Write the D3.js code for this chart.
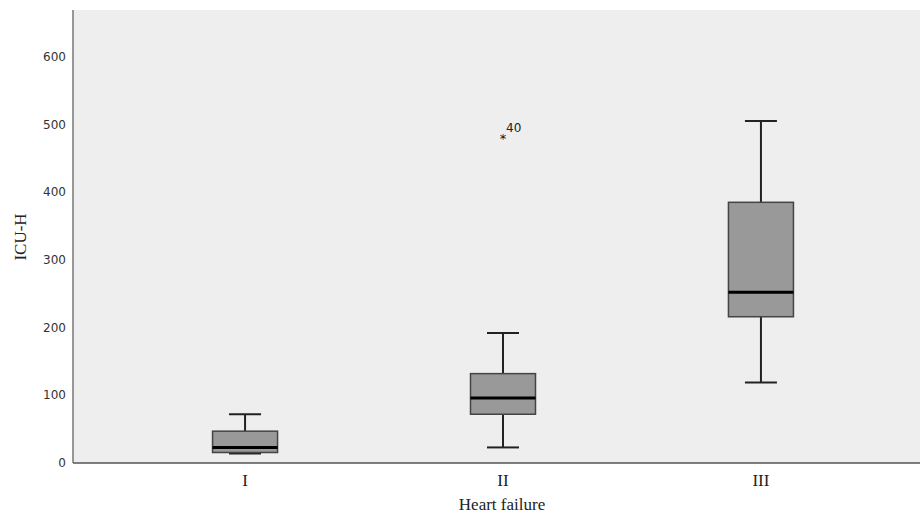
<!DOCTYPE html>
<html>
<head>
<meta charset="utf-8">
<script src="https://d3js.org/d3.v7.min.js"></script>
<style>
  body { margin: 0; background: #fff; }
  svg { display: block; }
</style>
</head>
<body>
<script>
// categories and box stats
const groups = ['I', 'II', 'III'];
const whiskLow = [14, 23, 119];
const q1 = [15.5, 72, 216];
const medians = [23, 96, 252];
const q3 = [47, 132, 385];
const whiskHigh = [72, 192, 505];

// extreme values (SPSS star) with case labels
const outGroup = ['II'];
const outValue = [481];
const outLabel = ['40'];

const yTicks = [0, 100, 200, 300, 400, 500, 600];

const width = 920, height = 525;
const plotLeft = 73, plotTop = 10, plotBottom = 463;

const svg = d3.select('body').append('svg')
  .attr('width', width)
  .attr('height', height);

const x = d3.scalePoint()
  .domain(groups)
  .range([plotLeft, 933])
  .padding(0.667);

const y = d3.scaleLinear()
  .domain([0, 669])
  .range([plotBottom, plotTop]);

// plot background
svg.append('rect')
  .attr('x', plotLeft)
  .attr('y', plotTop)
  .attr('width', width - plotLeft)
  .attr('height', plotBottom - plotTop)
  .style('fill', '#eeeeee');

// y axis labels
svg.selectAll('.ytick')
  .data(yTicks)
  .enter()
  .append('text')
  .attr('class', 'ytick')
  .attr('x', 66)
  .attr('y', d => y(d))
  .attr('dy', '0.35em')
  .attr('text-anchor', 'end')
  .style('font-family', '"DejaVu Sans", sans-serif')
  .style('font-size', '12px')
  .style('fill', '#333')
  .text(d => d);

// axes lines
svg.append('line')
  .attr('x1', plotLeft).attr('x2', plotLeft)
  .attr('y1', plotTop).attr('y2', plotBottom)
  .style('stroke', '#777')
  .style('stroke-width', 1.5);

svg.append('line')
  .attr('x1', plotLeft).attr('x2', width)
  .attr('y1', plotBottom).attr('y2', plotBottom)
  .style('stroke', '#555')
  .style('stroke-width', 1.5);

const boxW = 65, capW = 32;

const boxes = groups.map((g, i) => ({
  g: g, lo: whiskLow[i], q1: q1[i], med: medians[i], q3: q3[i], hi: whiskHigh[i]
}));

const gBox = svg.selectAll('.box')
  .data(boxes)
  .enter()
  .append('g')
  .attr('class', 'box');

// whisker stems
gBox.append('line')
  .attr('x1', d => x(d.g)).attr('x2', d => x(d.g))
  .attr('y1', d => y(d.hi)).attr('y2', d => y(d.q3))
  .style('stroke', '#222').style('stroke-width', 2);
gBox.append('line')
  .attr('x1', d => x(d.g)).attr('x2', d => x(d.g))
  .attr('y1', d => y(d.q1)).attr('y2', d => y(d.lo))
  .style('stroke', '#222').style('stroke-width', 2);

// caps
gBox.append('line')
  .attr('x1', d => x(d.g) - capW / 2).attr('x2', d => x(d.g) + capW / 2)
  .attr('y1', d => y(d.hi)).attr('y2', d => y(d.hi))
  .style('stroke', '#222').style('stroke-width', 2);
gBox.append('line')
  .attr('x1', d => x(d.g) - capW / 2).attr('x2', d => x(d.g) + capW / 2)
  .attr('y1', d => y(d.lo)).attr('y2', d => y(d.lo))
  .style('stroke', '#222').style('stroke-width', 2);

// box
gBox.append('rect')
  .attr('x', d => x(d.g) - boxW / 2)
  .attr('y', d => y(d.q3))
  .attr('width', boxW)
  .attr('height', d => y(d.q1) - y(d.q3))
  .style('fill', '#999999')
  .style('stroke', '#444')
  .style('stroke-width', 1.5);

// median
gBox.append('line')
  .attr('x1', d => x(d.g) - boxW / 2).attr('x2', d => x(d.g) + boxW / 2)
  .attr('y1', d => y(d.med)).attr('y2', d => y(d.med))
  .style('stroke', '#000').style('stroke-width', 3);

// extreme points
outGroup.forEach((g, i) => {
  svg.append('text')
    .attr('x', x(g))
    .attr('y', y(outValue[i]) + 6)
    .attr('text-anchor', 'middle')
    .style('font-family', '"DejaVu Sans", sans-serif')
    .style('font-size', '13px')
    .style('fill', '#111')
    .text('*');
  svg.append('text')
    .attr('x', x(g) + 3)
    .attr('y', y(outValue[i]) - 5)
    .style('font-family', '"DejaVu Sans", sans-serif')
    .style('font-size', '12px')
    .style('fill', '#222')
    .text(outLabel[i]);
});

// x tick labels
svg.selectAll('.xtick')
  .data(groups)
  .enter()
  .append('text')
  .attr('class', 'xtick')
  .attr('x', d => x(d))
  .attr('y', 486)
  .attr('text-anchor', 'middle')
  .style('font-family', '"Liberation Serif", serif')
  .style('font-size', '17px')
  .style('fill', '#222')
  .text(d => d);

// axis titles
svg.append('text')
  .attr('x', 502)
  .attr('y', 510)
  .attr('text-anchor', 'middle')
  .style('font-family', '"Liberation Serif", serif')
  .style('font-size', '17px')
  .style('fill', '#222')
  .text('Heart failure');

svg.append('text')
  .attr('transform', 'translate(26,237) rotate(-90)')
  .attr('text-anchor', 'middle')
  .style('font-family', '"Liberation Serif", serif')
  .style('font-size', '17px')
  .style('fill', '#222')
  .text('ICU-H');
</script>
</body>
</html>
